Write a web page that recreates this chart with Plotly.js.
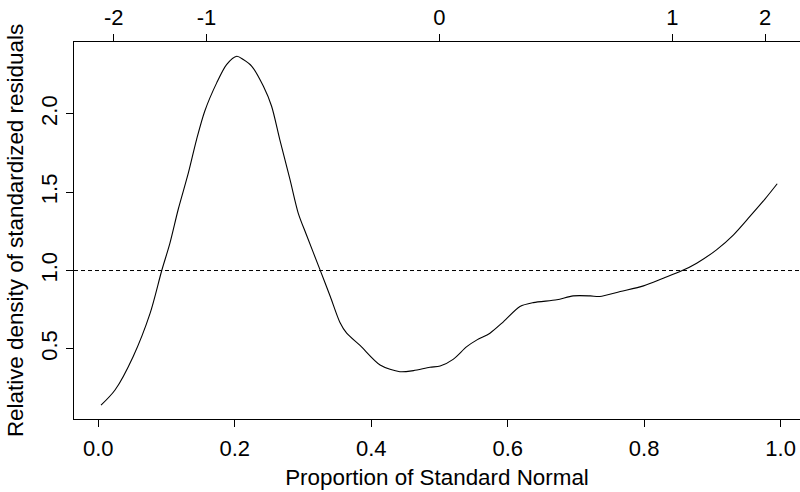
<!DOCTYPE html>
<html>
<head>
<meta charset="utf-8">
<script src="https://cdn.plot.ly/plotly-3.0.1.min.js"></script>
<style>
  html, body { margin: 0; padding: 0; background: #fff; }
  #chart { width: 800px; height: 492px; }
</style>
</head>
<body>
<div id="chart"></div>
<script>
// Data
const proportion = [0.004, 0.0245, 0.051, 0.076, 0.093, 0.105, 0.117, 0.132, 0.144, 0.156, 0.1735, 0.188, 0.203, 0.2125, 0.225, 0.242, 0.254, 0.266, 0.281, 0.293, 0.305, 0.325, 0.34, 0.354, 0.364, 0.384, 0.413, 0.442, 0.462, 0.486, 0.501, 0.520, 0.540, 0.555, 0.574, 0.594, 0.618, 0.6375, 0.672, 0.696, 0.721, 0.735, 0.765, 0.799, 0.828, 0.855, 0.877, 0.906, 0.931, 0.955, 0.977, 0.995];
const relDensity = [0.14, 0.237, 0.45, 0.728, 1.0, 1.175, 1.388, 1.623, 1.836, 2.017, 2.198, 2.315, 2.368, 2.347, 2.304, 2.176, 2.049, 1.836, 1.58, 1.367, 1.228, 1.004, 0.834, 0.67, 0.60, 0.52, 0.397, 0.354, 0.361, 0.382, 0.39, 0.433, 0.514, 0.557, 0.60, 0.674, 0.77, 0.795, 0.813, 0.838, 0.838, 0.834, 0.866, 0.902, 0.951, 0.998, 1.047, 1.132, 1.228, 1.345, 1.456, 1.554];
const referenceLevel = 1.0;

// Bottom axis ticks (proportion) and top axis ticks (standard normal quantiles)
const bottomTicks = [0.0, 0.2, 0.4, 0.6, 0.8, 1.0];
const leftTicks = [0.5, 1.0, 1.5, 2.0];
const topTickPositions = [0.02275, 0.15866, 0.5, 0.84134, 0.97725]; // pnorm(-2..2)
const topTickLabels = ['-2', '-1', '0', '1', '2'];

const xRange = [-0.0356, 1.0284];
const yRange = [0.052, 2.459];

const FONT = '"Liberation Sans", Arial, Helvetica, sans-serif';

const traces = [
  {
    x: proportion, y: relDensity,
    type: 'scatter', mode: 'lines',
    line: { color: '#000', width: 1.1, shape: 'spline', smoothing: 0.8 },
    hoverinfo: 'skip', showlegend: false
  },
  {
    x: proportion, y: relDensity,
    xaxis: 'x2', yaxis: 'y',
    type: 'scatter', mode: 'lines',
    line: { color: 'rgba(0,0,0,0)', width: 0 },
    hoverinfo: 'skip', showlegend: false
  }
];

const layout = {
  width: 800, height: 492,
  margin: { l: 74, r: 0, t: 42, b: 73, pad: 0 },
  paper_bgcolor: '#fff', plot_bgcolor: '#fff',
  font: { family: FONT, size: 22, color: '#000' },
  showlegend: false,
  xaxis: {
    range: xRange, showgrid: false, zeroline: false,
    showline: true, linecolor: '#000', linewidth: 1.3,
    ticks: 'outside', ticklen: 7, tickwidth: 1, tickcolor: '#000',
    tickvals: bottomTicks, tickformat: '.1f',
    tickfont: { family: FONT, size: 22, color: '#000' },
    ticklabelstandoff: 2,
    title: { text: 'Proportion of Standard Normal', font: { family: FONT, size: 22.4, color: '#000' }, standoff: 9 }
  },
  xaxis2: {
    range: xRange, overlaying: 'x', side: 'top', anchor: 'y',
    showgrid: false, zeroline: false,
    showline: true, linecolor: '#000', linewidth: 1.3,
    ticks: 'outside', ticklen: 7, tickwidth: 1, tickcolor: '#000',
    tickvals: topTickPositions, ticktext: topTickLabels,
    tickfont: { family: FONT, size: 22, color: '#000' }
  },
  yaxis: {
    range: yRange, showgrid: false, zeroline: false,
    showline: true, linecolor: '#000', linewidth: 1.3,
    ticks: 'outside', ticklen: 7, tickwidth: 1, tickcolor: '#000',
    tickvals: leftTicks, tickformat: '.1f', tickangle: -90,
    tickfont: { family: FONT, size: 22, color: '#000' },
    title: { text: 'Relative density of standardized residuals', font: { family: FONT, size: 22.4, color: '#000' }, standoff: 7 }
  },
  shapes: [
    {
      type: 'line', xref: 'paper', yref: 'y',
      x0: 0, x1: 1, y0: referenceLevel, y1: referenceLevel,
      line: { color: '#000', width: 1, dash: '4px,3px' }
    }
  ]
};

Plotly.newPlot('chart', traces, layout, { displayModeBar: false, staticPlot: true });
</script>
</body>
</html>
